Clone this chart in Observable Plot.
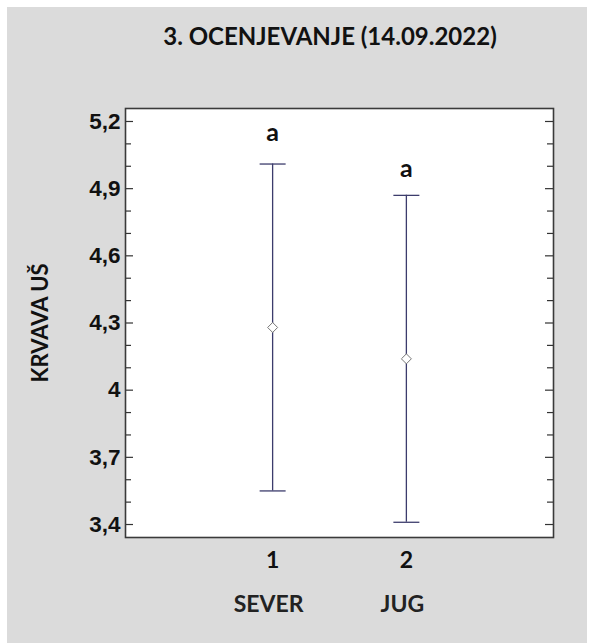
<!DOCTYPE html>
<html>
<head>
<meta charset="utf-8">
<script src="https://cdn.jsdelivr.net/npm/d3@7"></script>
<script src="https://cdn.jsdelivr.net/npm/@observablehq/plot@0.6"></script>
<style>
  html, body { margin: 0; padding: 0; background: #ffffff; }
  #outer { position: absolute; left: 7px; top: 7px; width: 580px; height: 636px; background: #dbdbdb; overflow: hidden; }
  #title { position: absolute; left: 323px; top: 14px; transform: translateX(-50%); white-space: nowrap;
           font-family: Lato, "Open Sans", sans-serif; font-weight: bold; font-size: 24px; line-height: 30px; color: #111; }
  #chart { position: absolute; left: 0; top: 0; }
</style>
</head>
<body>
<div id="outer">
  <div id="chart"></div>
  <div id="title">3. OCENJEVANJE (14.09.2022)</div>
</div>
<script>
// ---- data ----
const groups = ["SEVER", "JUG"];
const positions = [1, 2];
const means = [4.28, 4.14];
const lower = [3.55, 3.41];
const upper = [5.01, 4.87];
const letters = ["a", "a"];
const letterY = [5.15, 4.99];
const yTicks = [3.4, 3.7, 4.0, 4.3, 4.6, 4.9, 5.2];
const yMinorTicks = [3.5, 3.6, 3.8, 3.9, 4.1, 4.2, 4.4, 4.5, 4.7, 4.8, 5.0, 5.1];
const xTicks = [1, 2];
const yLabel = "KRVAVA UŠ";

const rows = groups.map((g, i) => ({
  group: g, x: positions[i], mean: means[i], lo: lower[i], hi: upper[i],
  letter: letters[i], ly: letterY[i]
}));

const capSymbol = {
  draw(ctx, size) {
    const w = Math.sqrt(size / Math.PI);
    ctx.moveTo(-w, 0);
    ctx.lineTo(w, 0);
  }
};

const barColor = "#3c3c6c";
const calibri = "Lato, 'Open Sans', sans-serif";
const fmt = d => String(+d.toFixed(1)).replace(".", ",");

const W = 580, H = 636;
const mL = 118, mR = 34, mT = 101, mB = 106;
const frameW = W - mL - mR;

const chart = Plot.plot({
  width: W,
  height: H,
  marginLeft: mL,
  marginRight: mR,
  marginTop: mT,
  marginBottom: mB,
  style: { background: "transparent", color: "#111", overflow: "visible" },
  x: { type: "linear", domain: [-0.1, 3.1] },
  y: { domain: [3.342, 5.258] },
  marks: [
    Plot.frame({ fill: "white" }),
    // inward ticks, left side
    Plot.tickY(yTicks, { y: d => d, stroke: "#333", strokeWidth: 1.2, insetRight: frameW - 8 }),
    Plot.tickY(yMinorTicks, { y: d => d, stroke: "#333", strokeWidth: 1.2, insetRight: frameW - 6 }),
    // inward ticks, right side
    Plot.tickY(yTicks, { y: d => d, stroke: "#333", strokeWidth: 1.2, insetLeft: frameW - 8 }),
    Plot.tickY(yMinorTicks, { y: d => d, stroke: "#333", strokeWidth: 1.2, insetLeft: frameW - 6 }),
    Plot.axisY({
      ticks: yTicks, tickSize: 0, tickPadding: 5, tickFormat: fmt, label: null,
      fontSize: 22.5, fontWeight: "bold", fontFamily: "'Liberation Sans', Arial, sans-serif"
    }),
    Plot.axisX({
      ticks: xTicks, tickSize: 0, tickPadding: 14, tickFormat: d => String(d), label: null,
      fontSize: 23, fontWeight: "bold", fontFamily: calibri
    }),
    // error bars
    Plot.ruleX(rows, { x: "x", y1: "lo", y2: "hi", stroke: barColor, strokeWidth: 1.3 }),
    Plot.dot(rows, { x: "x", y: "lo", symbol: capSymbol, r: 13, fill: "none", stroke: barColor, strokeWidth: 1.3 }),
    Plot.dot(rows, { x: "x", y: "hi", symbol: capSymbol, r: 13, fill: "none", stroke: barColor, strokeWidth: 1.3 }),
    Plot.dot(rows, { x: "x", y: "mean", symbol: "diamond2", r: 4.5, fill: "white", stroke: "#777", strokeWidth: 1 }),
    // letters
    Plot.text(rows, { x: "x", y: "ly", text: "letter", fontSize: 25, fontWeight: "bold", fontFamily: calibri, fill: "#111" }),
    // category names
    Plot.text(rows, { x: "x", text: "group", frameAnchor: "bottom", dy: 74, dx: -4, fontSize: 23, fontWeight: "bold", fontFamily: calibri, fill: "#222" }),
    // y label
    Plot.text([yLabel], { frameAnchor: "left", textAnchor: "middle", dx: -85, rotate: -90, fontSize: 22, fontWeight: "bold", fontFamily: calibri, fill: "#111" }),
    Plot.frame({ stroke: "#3a3a3a", strokeWidth: 1.6 })
  ]
});

document.getElementById("chart").appendChild(chart);
</script>
</body>
</html>
